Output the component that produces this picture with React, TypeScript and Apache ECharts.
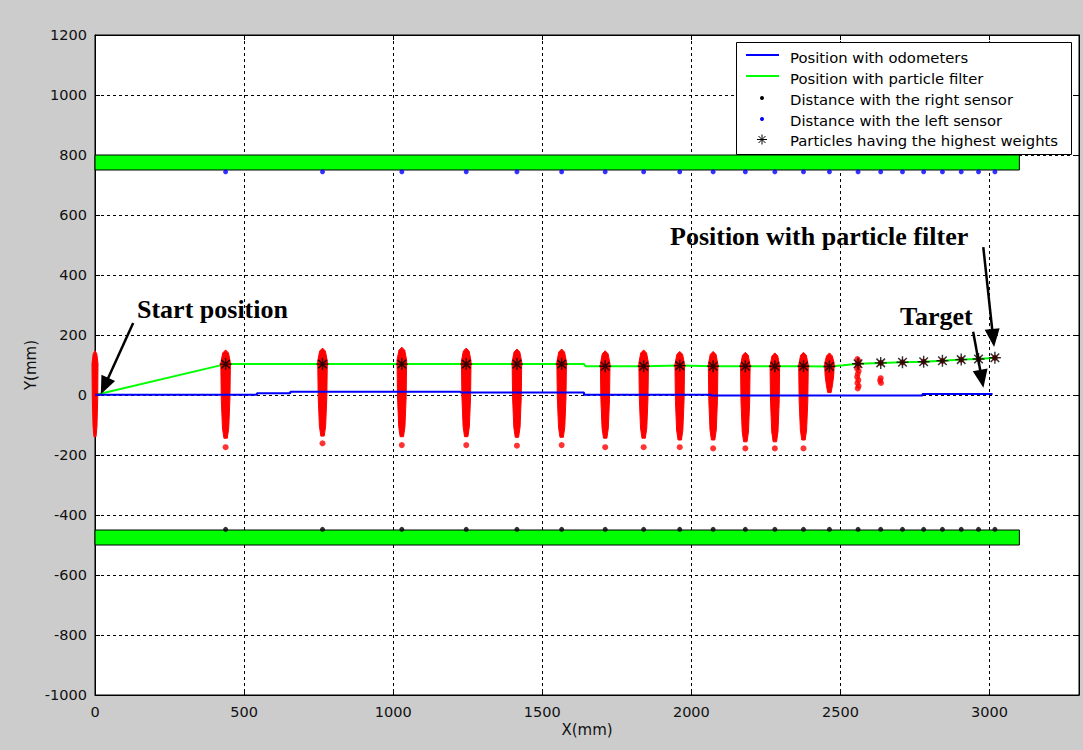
import React, { useEffect, useRef } from "react";
import * as echarts from "echarts";

// ---------- data ----------
const xTicks = [0, 500, 1000, 1500, 2000, 2500, 3000];

// walls: [x0, x1, y0, y1]
const walls = [
  [0, 3100, 750, 800],
  [0, 3100, -500, -450],
];

// measurement positions
const sensorX = [438, 763, 1029, 1245, 1415, 1565, 1711, 1840, 1961, 2073, 2181, 2280, 2376, 2463, 2559, 2635, 2708, 2779, 2842, 2905, 2963, 3018];
const leftSensorY = [744, 744, 744, 744, 744, 744, 744, 744, 744, 744, 744, 744, 744, 744, 744, 744, 744, 744, 744, 744, 744, 744];
const rightSensorY = [-448, -448, -448, -448, -448, -448, -448, -448, -448, -448, -448, -448, -448, -448, -448, -448, -448, -448, -448, -448, -448, -448];
const bestParticleY = [103, 103, 103, 103, 103, 103, 96, 96, 98, 96, 96, 96, 96, 95, 104, 107, 109, 111, 114, 118, 120, 124];

// odometer trajectory
const odoX = [0, 543, 543, 655, 655, 1226, 1226, 1640, 1640, 2066, 2066, 2775, 2775, 3010];
const odoY = [1, 1, 6, 6, 11, 11, 8, 8, 1, 1, -2, -2, 3, 3];

// particle-filter trajectory
const pfX = [0, 438, 763, 1029, 1245, 1415, 1565, 1640, 1645, 1711, 1840, 1961, 2073, 2181, 2280, 2376, 2463, 2510, 2559, 2635, 2708, 2779, 2842, 2905, 2963, 3018];
const pfY = [0, 103, 103, 103, 103, 103, 103, 103, 96, 96, 96, 98, 96, 96, 96, 96, 95, 99, 104, 107, 109, 111, 114, 118, 120, 124];

// particle clouds (dense columns)
const cloudX = [0, 438, 763, 1029, 1245, 1415, 1565, 1711, 1840, 1961, 2073, 2181, 2280, 2376, 2463];
const cloudTop = [144, 147, 153, 156, 153, 150, 150, 144, 147, 142, 142, 139, 137, 139, 137];
const cloudBottom = [-139, -144, -137, -139, -139, -141, -141, -144, -144, -150, -150, -156, -156, -150, 8];

// isolated particles
const strayX = [438, 763, 1029, 1245, 1415, 1565, 1711, 1840, 1961, 2073, 2181, 2280, 2376,
  2557, 2561, 2557, 2560, 2556, 2561, 2558, 2556, 2560, 2557, 2561, 2558,
  2635, 2633, 2636,
  2559, 2635, 2708, 2779, 2842, 2905, 2963, 3018];
const strayY = [-174, -161, -167, -167, -169, -167, -174, -174, -174, -178, -178, -178, -178,
  120, 112, 104, 96, 88, 80, 70, 60, 50, 40, 30, 22,
  56, 48, 40,
  104, 107, 109, 111, 114, 118, 120, 124];

// annotation arrows (data coords: from -> head centre)
const arrowFromX = [128, 2979, 2945];
const arrowFromY = [240, 493, 211];
const arrowToX = [32, 3012, 2974];
const arrowToY = [30, 190, 54];

const legendNames = [
  "Position with odometers",
  "Position with particle filter",
  "Distance with the right sensor",
  "Distance with the left sensor",
  "Particles having the highest weights",
];

// ---------- helpers ----------
const zip = (a: number[], b: number[]) => a.map((v, i) => [v, b[i]]);
const STAR =
  "path://M4.4,0L5.6,0L5.6,10L4.4,10Z M0,4.4L10,4.4L10,5.6L0,5.6Z M1.0,1.9L1.9,1.0L9.0,8.1L8.1,9.0Z M8.1,1.0L9.0,1.9L1.9,9.0L1.0,8.1Z M3.4,3.4L6.6,3.4L6.6,6.6L3.4,6.6Z";
const FONT = '"DejaVu Sans", sans-serif';

export default function App() {
  const ref = useRef<HTMLDivElement>(null);

  useEffect(() => {
    if (!ref.current) return;
    const chart = echarts.init(ref.current, null, { renderer: "svg" });

    const axisCommon = {
      axisLine: { show: true, onZero: false, lineStyle: { color: "#000", width: 1 } },
      axisTick: { show: true, inside: true, length: 5, lineStyle: { color: "#000" } },
    };

    const legendX0 = 736;
    const rowY = [56, 77, 98, 119, 139.5];

    const legendGraphic: any[] = [
      {
        type: "rect",
        shape: { x: legendX0 + 0.5, y: 42.5, width: 335, height: 112 },
        style: { fill: "#fff", stroke: "#000", lineWidth: 1 },
        z: 100,
      },
      { type: "line", shape: { x1: 746, y1: rowY[0] - 1, x2: 779, y2: rowY[0] - 1 }, style: { stroke: "#0000ff", lineWidth: 2 }, z: 101 },
      { type: "line", shape: { x1: 746, y1: rowY[1] - 1, x2: 779, y2: rowY[1] - 1 }, style: { stroke: "#00ff00", lineWidth: 2 }, z: 101 },
      { type: "circle", shape: { cx: 762, cy: rowY[2], r: 2 }, style: { fill: "#000" }, z: 101 },
      { type: "circle", shape: { cx: 762, cy: rowY[3], r: 2 }, style: { fill: "#0000ff" }, z: 101 },
      { type: "line", shape: { x1: 762, y1: rowY[4] - 5, x2: 762, y2: rowY[4] + 5 }, style: { stroke: "#000", lineWidth: 1 }, z: 101 },
      { type: "line", shape: { x1: 757, y1: rowY[4], x2: 767, y2: rowY[4] }, style: { stroke: "#000", lineWidth: 1 }, z: 101 },
      { type: "line", shape: { x1: 758.5, y1: rowY[4] - 3.5, x2: 765.5, y2: rowY[4] + 3.5 }, style: { stroke: "#000", lineWidth: 1 }, z: 101 },
      { type: "line", shape: { x1: 765.5, y1: rowY[4] - 3.5, x2: 758.5, y2: rowY[4] + 3.5 }, style: { stroke: "#000", lineWidth: 1 }, z: 101 },
      ...legendNames.map((t, i) => ({
        type: "text",
        x: 790,
        y: rowY[i] + 1,
        style: { text: t, font: `14.8px ${FONT}`, fill: "#000", verticalAlign: "middle", align: "left" },
        z: 101,
      })),
    ];

    const annotFont = 'bold 26px "Liberation Serif", "Times New Roman", serif';
    const annotations: any[] = [
      { type: "text", x: 137, y: 309, style: { text: "Start position", font: annotFont, fill: "#000", verticalAlign: "middle" }, z: 100 },
      { type: "text", x: 670, y: 236, style: { text: "Position with particle filter", font: annotFont, fill: "#000", verticalAlign: "middle" }, z: 100 },
      { type: "text", x: 900, y: 316, style: { text: "Target", font: annotFont, fill: "#000", verticalAlign: "middle" }, z: 100 },
    ];

    const option: any = {
      animation: false,
      backgroundColor: "#cccccc",
      grid: {
        left: 95,
        top: 35,
        right: 4,
        bottom: 55,
        show: true,
        backgroundColor: "#ffffff",
        borderColor: "#000",
        borderWidth: 1,
      },
      xAxis: [
        {
          type: "value",
          min: 0,
          max: 3300,
          interval: 500,
          name: "X(mm)",
          nameLocation: "middle",
          nameGap: 27,
          nameMoveOverlap: false,
          nameTextStyle: { fontFamily: FONT, fontSize: 15, color: "#111" },
          ...axisCommon,
          axisLabel: {
            fontFamily: FONT,
            fontSize: 14.5,
            color: "#111",
            margin: 9,
            formatter: (v: number) => (xTicks.includes(v) ? String(v) : ""),
          },
          splitLine: { show: true, lineStyle: { color: "#000", width: 1, type: [3, 3] } },
        },
        {
          type: "value",
          position: "top",
          min: 0,
          max: 3300,
          interval: 500,
          ...axisCommon,
          axisLabel: { show: false },
          splitLine: { show: false },
        },
      ],
      yAxis: [
        {
          type: "value",
          min: -1000,
          max: 1200,
          interval: 200,
          name: "Y(mm)",
          nameLocation: "middle",
          nameGap: 57,
          nameMoveOverlap: false,
          nameRotate: 90,
          nameTextStyle: { fontFamily: FONT, fontSize: 15, color: "#111" },
          ...axisCommon,
          axisLabel: {
            fontFamily: FONT,
            fontSize: 14.5,
            color: "#111",
            margin: 8,
            formatter: (v: number) => String(v),
          },
          splitLine: { show: true, lineStyle: { color: "#000", width: 1, type: [3, 3] } },
        },
        {
          type: "value",
          position: "right",
          min: -1000,
          max: 1200,
          interval: 200,
          ...axisCommon,
          axisLabel: { show: false },
          splitLine: { show: false },
        },
      ],
      series: [
        {
          name: "walls",
          type: "custom",
          z: 2,
          silent: true,
          encode: { x: [0, 1], y: [2, 3] },
          data: walls,
          renderItem: (_p: any, api: any) => {
            const a = api.coord([api.value(0), api.value(3)]);
            const b = api.coord([api.value(1), api.value(2)]);
            return {
              type: "rect",
              shape: { x: a[0], y: a[1], width: b[0] - a[0], height: b[1] - a[1] },
              style: { fill: "#00ff00", stroke: "#000", lineWidth: 1 },
            };
          },
        },
        {
          name: legendNames[1],
          type: "line",
          z: 3,
          data: zip(pfX, pfY),
          symbol: "none",
          lineStyle: { color: "#00ff00", width: 2 },
          silent: true,
        },
        {
          name: "particles",
          type: "custom",
          z: 4,
          clip: false,
          silent: true,
          encode: { x: 0, y: [1, 2] },
          data: cloudX.map((x, i) => [x, cloudTop[i], cloudBottom[i]]),
          renderItem: (_p: any, api: any) => {
            const x = api.value(0);
            const t = api.coord([x, api.value(1)]);
            const b = api.coord([x, api.value(2)]);
            const cx = t[0];
            const h = b[1] - t[1];
            const w = x === 0 ? 3 : 4.8;
            const pts = [
              [cx, t[1] - 1],
              [cx + w * 0.6, t[1] + 2],
              [cx + w, t[1] + Math.min(12, h * 0.25)],
              [cx + w * 0.9, t[1] + h * 0.55],
              [cx + w * 0.65, b[1] - Math.min(10, h * 0.2)],
              [cx + w * 0.35, b[1]],
              [cx - w * 0.35, b[1]],
              [cx - w * 0.65, b[1] - Math.min(10, h * 0.2)],
              [cx - w * 0.9, t[1] + h * 0.55],
              [cx - w, t[1] + Math.min(12, h * 0.25)],
              [cx - w * 0.6, t[1] + 2],
            ];
            return {
              type: "polygon",
              shape: { points: pts },
              style: { fill: "#ff0000", stroke: "#ff0000", lineWidth: 1 },
            };
          },
        },
        {
          name: "stray particles",
          type: "scatter",
          z: 4,
          silent: true,
          symbol: "circle",
          symbolSize: 6,
          itemStyle: { color: "#ff0000" },
          data: zip(strayX, strayY),
        },
        {
          name: legendNames[0],
          type: "line",
          z: 5,
          data: zip(odoX, odoY),
          symbol: "none",
          lineStyle: { color: "#0000ff", width: 2 },
          silent: true,
          markLine: {
            silent: true,
            animation: false,
            symbol: ["none", "triangle"],
            symbolSize: [15, 18],
            label: { show: false },
            emphasis: { disabled: true },
            lineStyle: { color: "#000", width: 2.5, type: "solid" },
            itemStyle: { color: "#000" },
            data: arrowFromX.map((fx, i) => [
              { coord: [fx, arrowFromY[i]] },
              { coord: [arrowToX[i], arrowToY[i]] },
            ]),
          },
        },
        {
          name: legendNames[2],
          type: "scatter",
          z: 6,
          silent: true,
          symbol: "circle",
          symbolSize: 5,
          itemStyle: { color: "#000" },
          data: zip(sensorX, rightSensorY),
        },
        {
          name: legendNames[3],
          type: "scatter",
          z: 6,
          silent: true,
          symbol: "circle",
          symbolSize: 5,
          itemStyle: { color: "#0000ff" },
          data: zip(sensorX, leftSensorY),
        },
        {
          name: legendNames[4],
          type: "scatter",
          z: 7,
          silent: true,
          symbol: STAR,
          symbolSize: 12,
          itemStyle: { color: "#000" },
          data: zip(sensorX, bestParticleY),
        },
      ],
      graphic: [...annotations, ...legendGraphic],
    };

    chart.setOption(option);
    return () => chart.dispose();
  }, []);

  return (
    <div
      ref={ref}
      style={{ position: "absolute", left: 0, top: 0, width: 1083, height: 750, background: "#cccccc" }}
    />
  );
}
